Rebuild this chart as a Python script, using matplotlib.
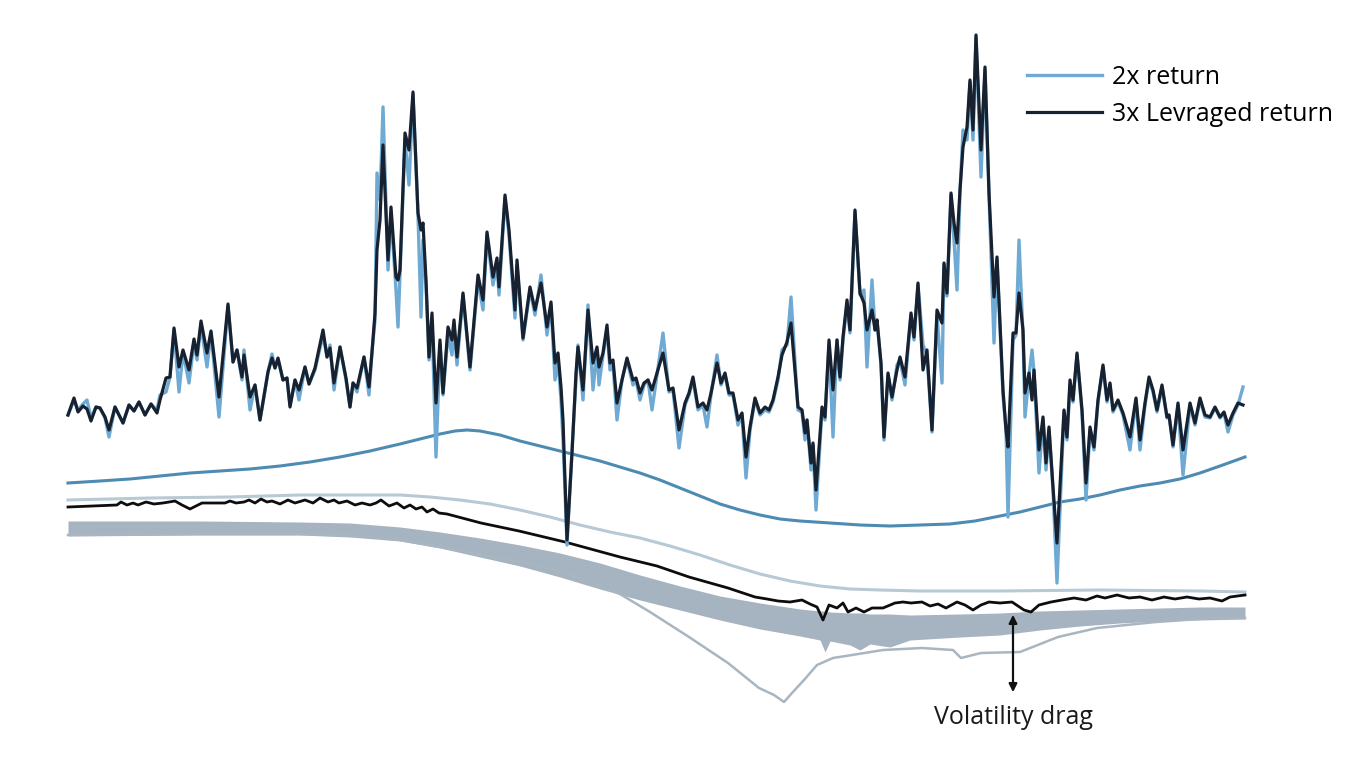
import matplotlib
matplotlib.use("Agg")
import matplotlib.pyplot as plt

plt.rcParams['font.family'] = ['Open Sans', 'DejaVu Sans']

# chart units: t runs left->right, level grows downward (axis is inverted)
t_main = [68, 74, 78, 83, 87, 91, 96, 100, 105, 109, 115, 123, 129, 134, 139, 145, 151, 157, 160, 166,
          170, 174, 179, 183, 189, 194, 197, 201, 207, 211, 219, 228, 233, 237, 242, 244, 250, 255, 260, 268,
          272, 275, 278, 283, 287, 290, 295, 299, 305, 309, 315, 323, 327, 330, 334, 340, 346, 350, 353, 357,
          364, 369, 372, 375, 377, 380, 383, 388, 391, 396, 398, 400, 405, 409, 413, 418, 421, 423, 426, 429,
          432, 436, 440, 443, 448, 452, 454, 457, 463, 470, 478, 483, 487, 493, 497, 499, 505, 509, 515, 517,
          523, 530, 535, 541, 547, 551, 555, 558, 561, 563, 565, 567, 572, 576, 578, 583, 588, 593, 597, 599,
          603, 607, 610, 613, 617, 622, 627, 633, 636, 640, 644, 648, 652, 657, 663, 669, 673, 679, 685, 689,
          693, 698, 703, 707, 711, 717, 721, 725, 729, 733, 738, 742, 746, 750, 755, 760, 765, 769, 773, 778,
          782, 787, 791, 798, 802, 805, 807, 811, 813, 816, 822, 825, 829, 833, 837, 840, 843, 847, 850, 855,
          860, 864, 867, 872, 875, 877, 881, 884, 888, 892, 897, 900, 905, 911, 914, 918, 923, 927, 932, 937,
          942, 944, 947, 951, 954, 957, 960, 963, 967, 970, 973, 976, 981, 985, 989, 994, 997, 1003, 1006, 1008,
          1013, 1016, 1019, 1023, 1025, 1029, 1032, 1034, 1039, 1043, 1046, 1049, 1053, 1057, 1064, 1067, 1070, 1073, 1077, 1082,
          1086, 1090, 1094, 1098, 1103, 1107, 1110, 1113, 1118, 1123, 1130, 1136, 1140, 1145, 1149, 1153, 1157, 1162, 1167, 1169,
          1173, 1178, 1183, 1190, 1195, 1200, 1205, 1210, 1215, 1220, 1224, 1228, 1233, 1238, 1243]

lev3x = [415, 398, 412, 406, 409, 421, 407, 408, 417, 430, 407, 423, 405, 411, 402, 415, 404, 413, 400, 378,
         377, 328, 367, 350, 370, 339, 355, 321, 353, 331, 397, 304, 362, 350, 377, 355, 397, 385, 420, 372,
         358, 368, 358, 380, 378, 407, 380, 390, 367, 384, 368, 330, 357, 348, 383, 347, 378, 407, 383, 388,
         357, 387, 352, 313, 250, 220, 145, 260, 207, 277, 280, 270, 133, 150, 92, 213, 230, 223, 280, 357,
         313, 403, 340, 393, 327, 340, 320, 357, 293, 367, 275, 300, 232, 277, 258, 287, 195, 230, 310, 260,
         338, 287, 310, 283, 327, 302, 363, 353, 387, 420, 480, 540, 453, 373, 347, 390, 310, 363, 347, 367,
         353, 325, 363, 360, 403, 380, 358, 380, 378, 393, 383, 380, 390, 373, 353, 390, 388, 430, 403, 393,
         377, 407, 403, 410, 393, 363, 383, 373, 393, 393, 420, 413, 457, 427, 398, 413, 407, 410, 400, 377,
         355, 342, 323, 407, 410, 433, 420, 463, 443, 490, 407, 417, 340, 390, 340, 377, 337, 300, 330, 210,
         293, 303, 330, 310, 330, 320, 363, 437, 373, 397, 370, 357, 377, 313, 337, 283, 370, 350, 430, 310,
         323, 263, 293, 193, 223, 243, 190, 147, 127, 80, 130, 35, 150, 67, 193, 297, 257, 390, 430, 447,
         333, 333, 293, 330, 393, 373, 400, 370, 450, 417, 463, 427, 487, 543, 410, 437, 380, 400, 353, 410,
         483, 427, 447, 400, 365, 400, 383, 410, 400, 413, 437, 398, 440, 403, 377, 390, 410, 385, 417, 415,
         445, 403, 450, 403, 423, 398, 415, 417, 407, 417, 412, 425, 413, 403, 405]

lev2x = [415, 400, 410, 404, 400, 418, 407, 408, 418, 437, 407, 423, 405, 411, 402, 415, 404, 410, 395, 392,
         377, 330, 392, 352, 383, 342, 360, 325, 367, 333, 417, 306, 362, 350, 380, 350, 410, 385, 420, 372,
         354, 368, 360, 380, 378, 405, 380, 400, 367, 384, 370, 335, 357, 345, 390, 347, 380, 407, 383, 392,
         357, 395, 352, 320, 173, 200, 107, 270, 215, 290, 327, 275, 140, 185, 95, 215, 317, 240, 285, 360,
         320, 457, 345, 395, 335, 355, 325, 365, 295, 370, 280, 310, 235, 285, 265, 295, 198, 235, 318, 265,
         340, 290, 315, 275, 335, 305, 380, 360, 400, 440, 490, 545, 450, 380, 345, 400, 305, 390, 350, 385,
         355, 330, 370, 365, 420, 380, 360, 385, 380, 400, 385, 380, 410, 375, 333, 392, 390, 448, 405, 395,
         380, 410, 405, 427, 395, 355, 385, 375, 395, 395, 425, 415, 478, 430, 400, 415, 410, 412, 402, 380,
         350, 345, 297, 410, 412, 440, 420, 470, 445, 510, 410, 420, 345, 437, 340, 380, 340, 305, 333, 212,
         295, 290, 367, 280, 330, 320, 365, 440, 375, 400, 365, 360, 385, 315, 340, 285, 345, 355, 432, 315,
         383, 265, 296, 195, 240, 290, 192, 130, 140, 82, 140, 37, 177, 70, 195, 343, 260, 395, 430, 517,
         340, 335, 240, 335, 417, 375, 350, 372, 473, 420, 470, 430, 490, 583, 412, 440, 385, 402, 355, 412,
         500, 430, 450, 402, 367, 402, 385, 412, 402, 415, 450, 400, 450, 405, 380, 392, 412, 387, 418, 415,
         447, 405, 475, 405, 425, 400, 417, 418, 408, 418, 413, 432, 415, 405, 387]

# smooth 2x trend
t_trend = [68, 100, 130, 160, 190, 220, 250, 280, 310, 340, 370, 400, 420, 440, 455, 467, 480, 500, 520, 540,
           560, 580, 600, 620, 640, 660, 680, 700, 720, 740, 760, 780, 800, 830, 860, 890, 920, 950, 975, 1000,
           1020, 1040, 1060, 1080, 1100, 1120, 1140, 1160, 1180, 1200, 1220, 1245]
lev_trend = [483, 481, 479, 476, 473, 471, 469, 466, 462, 457, 451, 444, 439, 434, 431, 430, 431, 435, 441, 446,
             451, 456, 461, 467, 473, 480, 488, 496, 504, 510, 515, 519, 521, 523, 525, 526, 525, 524, 521, 516,
             512, 507, 502, 499, 495, 490, 486, 483, 479, 473, 466, 457]

# pale unlevered path
t_pale = [68, 150, 230, 300, 360, 400, 430, 460, 490, 520, 550, 580, 610, 640, 670, 700, 730, 760, 790, 820,
          850, 880, 920, 1000, 1100, 1200, 1245]
lev_pale = [500, 498, 497, 495, 495, 495, 497, 500, 504, 510, 517, 525, 532, 538, 546, 555, 565, 574, 581, 586,
            589, 590, 591, 591, 590, 591, 592]

# 3x realised path (lower)
t_real = [68, 117, 121, 127, 133, 138, 146, 154, 163, 175, 182, 190, 202, 225, 230, 236, 244, 249, 255, 261,
          267, 272, 280, 288, 295, 305, 313, 320, 328, 334, 339, 347, 355, 362, 370, 376, 381, 389, 397, 404,
          410, 416, 422, 427, 433, 439, 447, 481, 519, 565, 620, 657, 689, 728, 755, 767, 778, 790, 802, 810,
          817, 823, 829, 837, 843, 848, 856, 864, 872, 883, 895, 903, 911, 922, 930, 938, 946, 957, 965, 973,
          981, 989, 1000, 1012, 1024, 1031, 1039, 1051, 1062, 1074, 1086, 1097, 1105, 1117, 1129, 1140, 1152, 1164, 1175, 1187,
          1199, 1210, 1222, 1230, 1245]
lev_real = [507, 505, 502, 505, 503, 505, 502, 504, 503, 501, 505, 509, 503, 503, 501, 503, 502, 500, 503, 499,
            502, 501, 504, 500, 503, 500, 503, 498, 502, 500, 503, 501, 505, 503, 505, 503, 500, 506, 503, 508,
            505, 509, 507, 512, 509, 513, 514, 523, 531, 542, 557, 566, 577, 588, 597, 599, 601, 602, 600, 604,
            607, 620, 605, 608, 603, 612, 608, 612, 608, 608, 603, 602, 603, 602, 606, 604, 608, 602, 605, 610,
            605, 602, 603, 602, 610, 612, 605, 602, 600, 598, 600, 596, 598, 595, 598, 597, 600, 597, 599, 597,
            599, 598, 601, 597, 595]

# drag band
t_band = [68, 200, 300, 350, 400, 440, 480, 520, 560, 600, 640, 680, 720, 760, 800, 820, 825, 830, 850, 860,
          870, 890, 910, 960, 1000, 1040, 1080, 1120, 1160, 1200, 1245]
band_top = [521, 521, 522, 523, 527, 532, 538, 545, 553, 563, 575, 586, 596, 603, 609, 611, 611, 612, 613, 613,
            614, 614, 615, 614, 613, 611, 610, 609, 608, 607, 607]
band_bot = [536, 535, 535, 537, 541, 548, 557, 566, 577, 589, 600, 610, 620, 629, 636, 640, 652, 641, 645, 650,
            644, 647, 640, 637, 635, 630, 626, 623, 621, 620, 619]

# lower grey path
t_low = [68, 200, 300, 360, 400, 440, 481, 520, 557, 590, 620, 650, 689, 728, 759, 774, 784, 792, 804, 817,
         833, 852, 883, 922, 953, 961, 981, 1020, 1058, 1097, 1156, 1214, 1245]
lev_low = [535, 534, 534, 536, 540, 547, 555, 562, 570, 582, 594, 612, 637, 663, 688, 695, 702, 693, 680, 665,
           658, 655, 650, 648, 650, 658, 653, 652, 637, 628, 622, 618, 618]

fig = plt.figure(figsize=(13.65, 7.68), dpi=100)
ax = fig.add_axes([0, 0, 1, 1])

ax.fill_between(t_band, band_top, band_bot, color='#a6b3c0', lw=0)
ax.plot(t_low, lev_low, color='#a8b6c1', lw=1.8)
ax.plot(t_pale, lev_pale, color='#b7c9d4', lw=2.2)
ax.plot(t_real, lev_real, color='#0d0d0d', lw=2.0)
ax.plot(t_trend, lev_trend, color='#4e8bb3', lw=2.2)

ax.plot(t_main, lev2x, color='#6eaad3', lw=2.4, label='2x return')
ax.plot(t_main, lev3x, color='#17212f', lw=2.3, label='3x Levraged return')

# volatility drag marker
ax.annotate('', xy=(1013, 612), xytext=(1013, 695),
            arrowprops=dict(arrowstyle='<|-|>', color='#111111', lw=1.6, mutation_scale=12))
ax.text(1013, 718, 'Volatility drag', ha='center', va='center', fontsize=18, color='#1a1a1a')

ax.set_xlim(0, 1365)
ax.set_ylim(768, 0)
ax.axis('off')

leg = ax.legend(loc='upper right', bbox_to_anchor=(0.993, 0.945), frameon=False, fontsize=18,
                handlelength=3.0, handletextpad=0.4, labelspacing=0.5)

fig.savefig('out.png', dpi=100, facecolor='white')
